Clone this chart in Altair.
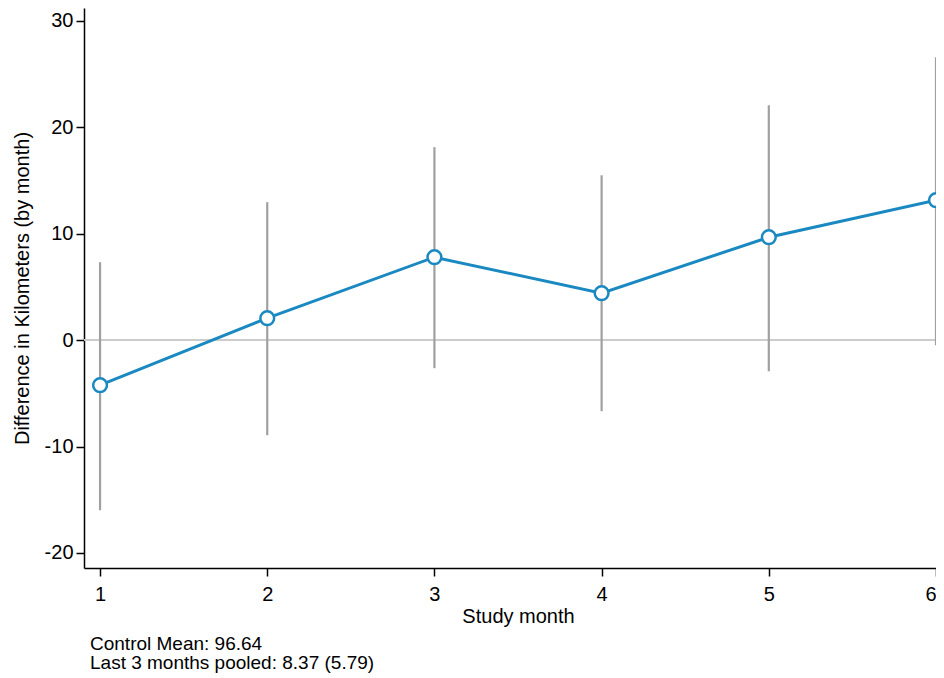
import altair as alt
import pandas as pd

months = [1, 2, 3, 4, 5, 6]
estimates = [-4.23, 2.07, 7.80, 4.42, 9.68, 13.16]
ci_low = [-15.98, -8.93, -2.63, -6.67, -2.91, -0.47]
ci_high = [7.33, 12.97, 18.14, 15.50, 22.09, 26.60]
notes = ["Control Mean: 96.64", "Last 3 months pooled: 8.37 (5.79)"]

df = pd.DataFrame({"month": months, "est": estimates, "lo": ci_low, "hi": ci_high})

FONT = "Liberation Sans"
BLUE = "#1a89c1"
xscale = alt.Scale(domain=[0.904, 6.0], nice=False, zero=False)
yscale = alt.Scale(domain=[-21.41, 31.22], nice=False, zero=False)

base = alt.Chart(df)

zero = base.mark_rule(color="#cccccc", strokeWidth=1.5).encode(
    y=alt.datum(0, scale=yscale, type="quantitative")
)

bars = base.mark_rule(color="#a0a0a0", strokeWidth=2.2).encode(
    x=alt.X("month:Q", scale=xscale),
    y=alt.Y("lo:Q", scale=yscale),
    y2="hi:Q",
)

line = base.mark_line(color=BLUE, strokeWidth=3).encode(
    x=alt.X("month:Q", scale=xscale,
            axis=alt.Axis(values=months, title="Study month", format="d",
                          titleX=434, titleAnchor="start", titleAlign="center",
                          titlePadding=2)),
    y=alt.Y("est:Q", scale=yscale,
            axis=alt.Axis(values=[-20, -10, 0, 10, 20, 30],
                          labelExpr="toString(datum.value)",
                          title="Difference in Kilometers (by month)",
                          titlePadding=12)),
)

pts = base.mark_point(filled=True, fill="white", stroke=BLUE, strokeWidth=2.5, size=190, opacity=1).encode(
    x=alt.X("month:Q", scale=xscale),
    y=alt.Y("est:Q", scale=yscale),
)

txt1 = base.mark_text(align="left", baseline="middle", font=FONT, fontSize=19, color="black", text=notes[0]).encode(
    x=alt.value(6), y=alt.value(636)
).transform_filter("datum.month == 1")
txt2 = base.mark_text(align="left", baseline="middle", font=FONT, fontSize=19, color="black", text=notes[1]).encode(
    x=alt.value(6), y=alt.value(655)
).transform_filter("datum.month == 1")

chart = alt.layer(zero, bars, line, pts, txt1, txt2).properties(
    width=852,
    height=560,
    autosize=alt.AutoSizeParams(type="none"),
    padding={"left": 76, "top": 0, "right": 0, "bottom": 108},
).configure_view(stroke=None).configure_axis(
    grid=False,
    domainColor="black",
    domainWidth=1.5,
    tickColor="black",
    tickWidth=1.5,
    tickSize=8,
    labelFont=FONT,
    labelFontSize=20,
    labelColor="black",
    titleFont=FONT,
    titleFontSize=20,
    titleFontWeight="normal",
    titleColor="black",
).configure_axisY(labelPadding=3).configure_axisX(labelPadding=8)

chart.save("out.html", embed_options={"renderer": "svg", "actions": False})
